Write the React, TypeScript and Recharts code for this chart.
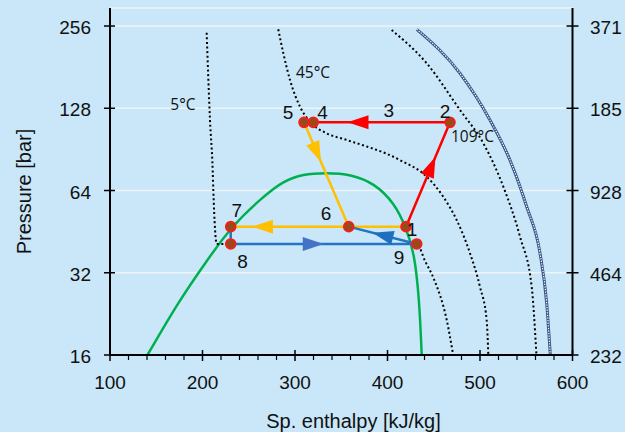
import { ComposedChart, Line, Scatter, XAxis, YAxis, CartesianGrid, Label } from "recharts";

// enthalpy h [kJ/kg], pressure p [bar]
const saturationDome = [
    {h: 140.5, p: 16}, {h: 175, p: 25.4}, {h: 205.2, p: 35.6},
    {h: 231, p: 47.2}, {h: 265.4, p: 60.7}, {h: 287, p: 69.2}, {h: 308.6, p: 73.6},
    {h: 334, p: 74.3}, {h: 360, p: 73.5}, {h: 386, p: 68}, {h: 407.7, p: 57.4},
    {h: 419.7, p: 47.2}, {h: 429.2, p: 37.7}, {h: 434.4, p: 25.4}, {h: 437, p: 16},
];

const isotherm5C = [
    {h: 204.5, p: 242}, {h: 208.1, p: 115.9}, {h: 211, p: 76.1}, {h: 211.7, p: 64.2},
    {h: 215.4, p: 40.8}, {h: 431.6, p: 40.8}, {h: 440.5, p: 35.4}, {h: 450.6, p: 30.1},
    {h: 464, p: 21.5}, {h: 471, p: 16},
];

const isotherm45C = [
    {h: 281.9, p: 249}, {h: 287.4, p: 203.4}, {h: 294.6, p: 162.4}, {h: 305.4, p: 129.7},
    {h: 316.2, p: 114.3}, {h: 334.3, p: 103.6}, {h: 355.9, p: 98}, {h: 413.5, p: 82.7},
    {h: 442.4, p: 71.9}, {h: 460.3, p: 60.7}, {h: 474.8, p: 49.9}, {h: 489.2, p: 37.7},
    {h: 500, p: 28.4}, {h: 507.2, p: 21.5}, {h: 509, p: 16},
];

const isotherm109C = [
    {h: 404.5, p: 247.5}, {h: 442.4, p: 186.9}, {h: 478.4, p: 126.1}, {h: 503.6, p: 95.3},
    {h: 525.2, p: 66.1}, {h: 543.2, p: 43.4}, {h: 555.9, p: 28.4}, {h: 561, p: 16},
];

const outerIsoline = [
    {h: 431.6, p: 249}, {h: 478.4, p: 171.8}, {h: 510.8, p: 115.9}, {h: 532.4, p: 82.7},
    {h: 550.5, p: 55.8}, {h: 564.9, p: 37.7}, {h: 572.1, p: 24.7}, {h: 576, p: 16},
];

const statePoints = [
    {id: "1", h: 420, p: 47.2},
    {id: "2", h: 467.6, p: 113.7},
    {id: "4", h: 319.8, p: 113.7},
    {id: "5", h: 309.7, p: 113.7},
    {id: "6", h: 358.1, p: 47.2},
    {id: "7", h: 230.5, p: 47.2},
    {id: "8", h: 230.5, p: 40.8},
    {id: "9", h: 431.6, p: 40.8},
];

const stateLabels = [
    {text: "1", h: 426.5, p: 46.1},
    {text: "2", h: 462.2, p: 124.3},
    {text: "3", h: 401.3, p: 126.1},
    {text: "4", h: 329.7, p: 123.9},
    {text: "5", h: 292.4, p: 123.3},
    {text: "6", h: 333.5, p: 52.6},
    {text: "7", h: 237, p: 54.3},
    {text: "8", h: 243.2, p: 35.3},
    {text: "9", h: 412.4, p: 36.5},
];

const tempLabels = [
    {text: "5°C", h: 178.9, p: 132.7},
    {text: "45°C", h: 319.5, p: 174.2},
    {text: "109°C", h: 491.9, p: 101.3},
];

const redPath = ["1", "2", "4", "5"];
const yellowPaths = [["5", "6"], ["7", "1"]];
const bluePaths = [["7", "8"], ["8", "9"], ["9", "6"]];

const redArrows = [{from: "2", to: "4", t: 0.75}, {from: "1", to: "2", t: 0.67}];
const yellowArrows = [{from: "5", to: "6", t: 0.38}, {from: "6", to: "7", t: 0.82}];
const blueArrows = [{from: "8", to: "9", t: 0.5}, {from: "9", to: "6", t: 0.65}];

const pressureTicks = [16, 32, 64, 128, 256];
const psiTickLabels = ["232", "464", "928", "185", "371"];
const enthalpyMajor = [100, 200, 300, 400, 500, 600];

const FONT = "'Liberation Sans', Arial, sans-serif";
const pt = (id) => statePoints.find(s => s.id === id);
const path = (ids) => ids.map(pt);
const enthalpyTicks = enthalpyMajor.flatMap(m => m === 600 ? [m] : [m, m + 20, m + 40, m + 60, m + 80]);

function arrowDot(t, color) {
    return (props) => {
        const {index, points} = props;
        if (index !== 0 || !points || points.length < 2) return <g key={"n" + index}/>;
        const a = points[0], b = points[1];
        const dx = b.x - a.x, dy = b.y - a.y;
        const len = Math.hypot(dx, dy) || 1;
        const ux = dx / len, uy = dy / len;
        const tx = a.x + dx * t, ty = a.y + dy * t;
        const L = 21, W = 7;
        const bx = tx - ux * L, by = ty - uy * L;
        return <polygon key={"a" + index}
                        points={`${tx},${ty} ${bx - uy * W},${by + ux * W} ${bx + uy * W},${by - ux * W}`}
                        fill={color}/>;
    };
}

function XTick({x, y, payload}) {
    if (payload.value % 100 === 0) {
        return (
            <g>
                <line x1={x} x2={x} y1={y - 5} y2={y + 6} stroke="#000" strokeWidth={1.5}/>
                <text x={x} y={y + 27} textAnchor="middle" dominantBaseline="central"
                      fontSize={19} fontFamily={FONT} fill="#111">{payload.value}</text>
            </g>
        );
    }
    return <line x1={x} x2={x} y1={y} y2={y + 5} stroke="#000" strokeWidth={1.2}/>;
}

function LeftTick({x, y, payload}) {
    return (
        <g>
            <line x1={x - 6} x2={x + 5} y1={y} y2={y} stroke="#000" strokeWidth={1.5}/>
            <text x={x - 19} y={y + 1.5} textAnchor="end" dominantBaseline="central"
                  fontSize={19} fontFamily={FONT} fill="#111">{payload.value}</text>
        </g>
    );
}

function RightTick({x, y, payload}) {
    const label = psiTickLabels[pressureTicks.indexOf(payload.value)];
    return (
        <g>
            <line x1={x - 6} x2={x + 6} y1={y} y2={y} stroke="#000" strokeWidth={1.5}/>
            <text x={x + 17.5} y={y + 1.5} textAnchor="start" dominantBaseline="central"
                  fontSize={19} fontFamily={FONT} fill="#111">{label}</text>
        </g>
    );
}

export default function App() {
    const dotted = {strokeDasharray: "2 2.6", strokeWidth: 2, stroke: "#000"};
    return (
        <div style={{position: "absolute", left: 0, top: 0, width: 625, height: 432, background: "#C9E7F8"}}>
            <ComposedChart width={625} height={432} margin={{top: 8, right: 0, bottom: 0, left: 0}}>
                <CartesianGrid yAxisId="left" vertical={false} stroke="#EEF4F8" strokeWidth={1.6}/>
                <XAxis dataKey="h" type="number" domain={[100, 600]} ticks={enthalpyTicks} interval={0}
                       height={77} tickSize={0} tickMargin={0} tick={<XTick/>} tickLine={false}
                       axisLine={{stroke: "#000", strokeWidth: 2}} allowDataOverflow>
                    <Label content={() => (
                        <text x={353.5} y={421} textAnchor="middle" dominantBaseline="central"
                              fontSize={20} fontFamily={FONT} fill="#111">Sp. enthalpy [kJ/kg]</text>
                    )}/>
                </XAxis>
                <XAxis xAxisId="top" orientation="top" dataKey="h" type="number" domain={[100, 600]}
                       height={0} tick={false} tickLine={false} axisLine={{stroke: "#333", strokeWidth: 1.5}}/>
                <YAxis yAxisId="left" dataKey="p" type="number" scale="log" domain={[16, 298]}
                       allowDataOverflow ticks={pressureTicks} interval={0} width={110}
                       tickSize={0} tickMargin={0} tick={<LeftTick/>} tickLine={false}
                       axisLine={{stroke: "#000", strokeWidth: 2}}>
                    <Label content={() => (
                        <text x={24} y={191.5} transform="rotate(-90 24 191.5)" textAnchor="middle"
                              dominantBaseline="central" fontSize={20} fontFamily={FONT}
                              fill="#111">Pressure [bar]</text>
                    )}/>
                </YAxis>
                <YAxis yAxisId="right" orientation="right" dataKey="p" type="number" scale="log"
                       domain={[16, 298]} allowDataOverflow ticks={pressureTicks} interval={0} width={52.5}
                       tickSize={0} tickMargin={0} tick={<RightTick/>} tickLine={false}
                       axisLine={{stroke: "#000", strokeWidth: 2}}/>

                <Line yAxisId="left" data={saturationDome} dataKey="p" type="basis" stroke="#00B050"
                      strokeWidth={2.5} dot={false} isAnimationActive={false}/>
                <Line yAxisId="left" data={isotherm5C} dataKey="p" type="monotone" {...dotted}
                      dot={false} isAnimationActive={false}/>
                <Line yAxisId="left" data={isotherm45C} dataKey="p" type="monotone" {...dotted}
                      dot={false} isAnimationActive={false}/>
                <Line yAxisId="left" data={isotherm109C} dataKey="p" type="monotone" {...dotted}
                      dot={false} isAnimationActive={false}/>
                <Line yAxisId="left" data={outerIsoline} dataKey="p" type="monotone" stroke="#3A5488"
                      strokeWidth={3} dot={false} isAnimationActive={false}/>
                <Line yAxisId="left" data={outerIsoline} dataKey="p" type="monotone" stroke="#FFFFFF"
                      strokeWidth={1.2} strokeDasharray="1.3 1.3" dot={false} isAnimationActive={false}/>

                <Line yAxisId="left" data={path(redPath)} dataKey="p" type="linear" stroke="#FF0000"
                      strokeWidth={2.5} dot={false} isAnimationActive={false}/>
                {yellowPaths.map((ids, i) => (
                    <Line key={"y" + i} yAxisId="left" data={path(ids)} dataKey="p" type="linear"
                          stroke="#FFC000" strokeWidth={2.5} dot={false} isAnimationActive={false}/>
                ))}
                {bluePaths.map((ids, i) => (
                    <Line key={"b" + i} yAxisId="left" data={path(ids)} dataKey="p" type="linear"
                          stroke="#2474C4" strokeWidth={2.5} dot={false} isAnimationActive={false}/>
                ))}

                {redArrows.map((a, i) => (
                    <Line key={"ra" + i} yAxisId="left" data={[pt(a.from), pt(a.to)]} dataKey="p"
                          stroke="none" dot={arrowDot(a.t, "#FF0000")} isAnimationActive={false}/>
                ))}
                {yellowArrows.map((a, i) => (
                    <Line key={"ya" + i} yAxisId="left" data={[pt(a.from), pt(a.to)]} dataKey="p"
                          stroke="none" dot={arrowDot(a.t, "#FFC000")} isAnimationActive={false}/>
                ))}
                {blueArrows.map((a, i) => (
                    <Line key={"ba" + i} yAxisId="left" data={[pt(a.from), pt(a.to)]} dataKey="p"
                          stroke="none" dot={arrowDot(a.t, i === 0 ? "#4472C4" : "#1F6FC0")}
                          isAnimationActive={false}/>
                ))}

                <Scatter yAxisId="left" data={statePoints} dataKey="p" isAnimationActive={false}
                         shape={(props) => (
                             <circle cx={props.cx} cy={props.cy} r={5} fill="#9A4A1A" stroke="#FF1A1A"
                                     strokeWidth={1.6}/>
                         )}/>
                <Scatter yAxisId="left" data={stateLabels} dataKey="p" isAnimationActive={false}
                         shape={(props) => (
                             <text x={props.cx} y={props.cy} textAnchor="middle" dominantBaseline="central"
                                   fontSize={19} fontFamily={FONT} fill="#111">{props.payload.text}</text>
                         )}/>
                <Scatter yAxisId="left" data={tempLabels} dataKey="p" isAnimationActive={false}
                         shape={(props) => (
                             <text x={props.cx} y={props.cy} textAnchor="middle" dominantBaseline="central"
                                   fontSize={15.5} fontFamily="'Open Sans', sans-serif"
                                   fill="#111">{props.payload.text}</text>
                         )}/>
            </ComposedChart>
        </div>
    );
}
